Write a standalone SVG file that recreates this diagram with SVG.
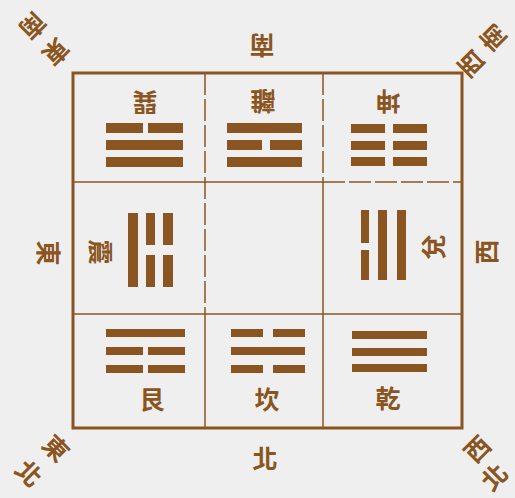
<svg xmlns="http://www.w3.org/2000/svg" width="515" height="498" viewBox="0 0 515 498">
<style>
.bg{fill:#efefef}
.frame{fill:none;stroke:#8a5520;stroke-width:3}
.grid{fill:none;stroke:#8a5520;stroke-width:1.5}
.dash{stroke-dasharray:22 4}
.bar{fill:#8a5520}
.t{font-family:"Noto Sans CJK TC","Noto Sans CJK SC",sans-serif;font-size:25px;font-weight:700;fill:#8a5520;text-anchor:middle;dominant-baseline:central}
</style>
<rect class="bg" width="515" height="498"/>
<g id="connectors">
<rect class="frame" x="73" y="73" width="389" height="355"/>
<line class="grid dash" x1="205" y1="73" x2="205" y2="314"/>
<line class="grid" x1="205" y1="314" x2="205" y2="428"/>
<line class="grid dash" x1="323" y1="73" x2="323" y2="182"/>
<line class="grid" x1="323" y1="182" x2="323" y2="428"/>
<line class="grid" x1="73" y1="182" x2="323" y2="182"/>
<line class="grid dash" x1="323" y1="182" x2="462" y2="182"/>
<line class="grid" x1="73" y1="314" x2="462" y2="314"/>
</g>
<g id="xun">
<rect class="bar" x="106" y="123" width="37" height="10"/><rect class="bar" x="148" y="123" width="35" height="10"/>
<rect class="bar" x="106" y="140" width="77" height="10"/>
<rect class="bar" x="106" y="157" width="77" height="10"/>
<text class="t" transform="translate(145,104) rotate(180)">巽</text>
</g>
<g id="li">
<rect class="bar" x="227" y="123" width="75" height="10"/>
<rect class="bar" x="227" y="140" width="35" height="10"/><rect class="bar" x="270" y="140" width="32" height="10"/>
<rect class="bar" x="227" y="157" width="75" height="10"/>
<text class="t" transform="translate(263,103) rotate(180)">離</text>
</g>
<g id="kun">
<rect class="bar" x="351" y="124" width="34" height="9"/><rect class="bar" x="393" y="124" width="34" height="9"/>
<rect class="bar" x="351" y="141" width="34" height="9"/><rect class="bar" x="393" y="141" width="34" height="9"/>
<rect class="bar" x="351" y="157" width="34" height="9"/><rect class="bar" x="393" y="157" width="34" height="9"/>
<text class="t" transform="translate(388,103) rotate(180)">坤</text>
</g>
<g id="zhen">
<rect class="bar" x="128" y="213" width="10" height="74"/>
<rect class="bar" x="146" y="213" width="9" height="32"/><rect class="bar" x="146" y="255" width="9" height="32"/>
<rect class="bar" x="163" y="213" width="10" height="32"/><rect class="bar" x="163" y="255" width="10" height="32"/>
<text class="t" transform="translate(102,252) rotate(90)">震</text>
</g>
<g id="dui">
<rect class="bar" x="361" y="210" width="8" height="33"/><rect class="bar" x="361" y="250" width="8" height="30"/>
<rect class="bar" x="378" y="210" width="9" height="70"/>
<rect class="bar" x="397" y="210" width="9" height="70"/>
<text class="t" transform="translate(432,247) rotate(-90)">兌</text>
</g>
<g id="gen">
<rect class="bar" x="106" y="329" width="79" height="8"/>
<rect class="bar" x="106" y="347" width="37" height="8"/><rect class="bar" x="148" y="347" width="37" height="8"/>
<rect class="bar" x="106" y="365" width="37" height="8"/><rect class="bar" x="148" y="365" width="37" height="8"/>
<text class="t" transform="translate(152,398)">艮</text>
</g>
<g id="kan">
<rect class="bar" x="231" y="329" width="32" height="8"/><rect class="bar" x="273" y="329" width="32" height="8"/>
<rect class="bar" x="231" y="347" width="74" height="8"/>
<rect class="bar" x="231" y="365" width="32" height="8"/><rect class="bar" x="273" y="365" width="32" height="8"/>
<text class="t" transform="translate(267,398)">坎</text>
</g>
<g id="qian">
<rect class="bar" x="352" y="331" width="75" height="8"/>
<rect class="bar" x="352" y="348" width="75" height="8"/>
<rect class="bar" x="352" y="364" width="75" height="8"/>
<text class="t" transform="translate(388,397)">乾</text>
</g>
<g id="directions">
<text class="t" transform="translate(262,47) rotate(180)">南</text>
<text class="t" transform="translate(265,457)">北</text>
<text class="t" transform="translate(50,253) rotate(90)">東</text>
<text class="t" transform="translate(485,252) rotate(-90)">西</text>
<text class="t" transform="translate(57,53) rotate(135)">東</text>
<text class="t" transform="translate(34,27) rotate(135)">南</text>
<text class="t" transform="translate(470,65) rotate(-135)">西</text>
<text class="t" transform="translate(492,39) rotate(-135)">南</text>
<text class="t" transform="translate(57,447) rotate(45)">東</text>
<text class="t" transform="translate(30,472) rotate(45)">北</text>
<text class="t" transform="translate(476,448) rotate(-45)">西</text>
<text class="t" transform="translate(493,476) rotate(-45)">北</text>
</g>
</svg>
